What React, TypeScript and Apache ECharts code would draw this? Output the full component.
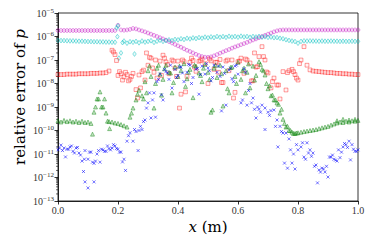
import React, { useEffect, useRef } from "react";
import * as echarts from "echarts";

// grid positions (m)
const xs = [0,0.01,0.02,0.03,0.04,0.05,0.06,0.07,0.08,0.09,0.1,0.11,0.12,0.13,0.14,0.15,0.16,0.17,0.18,0.19,0.2,0.21,0.22,0.23,0.24,0.25,0.26,0.27,0.28,0.29,0.3,0.31,0.32,0.33,0.34,0.35,0.36,0.37,0.38,0.39,0.4,0.41,0.42,0.43,0.44,0.45,0.46,0.47,0.48,0.49,0.5,0.51,0.52,0.53,0.54,0.55,0.56,0.57,0.58,0.59,0.6,0.61,0.62,0.63,0.64,0.65,0.66,0.67,0.68,0.69,0.7,0.71,0.72,0.73,0.74,0.75,0.76,0.77,0.78,0.79,0.8,0.81,0.82,0.83,0.84,0.85,0.86,0.87,0.88,0.89,0.9,0.91,0.92,0.93,0.94,0.95,0.96,0.97,0.98,0.99,1];

const magenta = [1.8e-6,1.8e-6,1.8e-6,1.8e-6,1.8e-6,1.8e-6,1.8e-6,1.8e-6,1.8e-6,1.8e-6,1.8e-6,1.8e-6,1.8e-6,1.8e-6,1.8e-6,1.8e-6,1.8e-6,1.8e-6,1.8e-6,1.8e-6,
3.0e-6,1.9e-6,1.85e-6,1.9e-6,2.0e-6,2.2e-6,2.1e-6,1.9e-6,
1.74e-6,1.58e-6,1.41e-6,1.26e-6,1.12e-6,1.0e-6,8.9e-7,7.9e-7,7.0e-7,6.1e-7,5.3e-7,4.6e-7,4.0e-7,3.5e-7,3.0e-7,2.6e-7,2.3e-7,2.0e-7,1.75e-7,1.55e-7,1.4e-7,1.32e-7,
1.3e-7,1.36e-7,1.5e-7,1.7e-7,1.95e-7,2.2e-7,2.5e-7,2.8e-7,3.2e-7,3.6e-7,4.0e-7,4.5e-7,5.0e-7,5.6e-7,6.3e-7,7.1e-7,7.9e-7,8.9e-7,1.0e-6,1.12e-6,1.26e-6,1.41e-6,1.58e-6,1.74e-6,1.86e-6,
1.9e-6,1.9e-6,1.9e-6,1.9e-6,1.9e-6,1.9e-6,1.9e-6,1.9e-6,1.9e-6,1.9e-6,1.9e-6,1.9e-6,1.9e-6,1.9e-6,1.9e-6,1.9e-6,1.9e-6,1.9e-6,1.9e-6,1.9e-6,1.9e-6,1.9e-6,1.9e-6,1.9e-6,1.9e-6,1.9e-6];

const cyan = [6.8e-7,6.7e-7,6.7e-7,6.6e-7,6.5e-7,6.5e-7,6.4e-7,6.3e-7,6.3e-7,6.2e-7,6.1e-7,6.1e-7,6.0e-7,6.0e-7,5.9e-7,5.9e-7,5.8e-7,5.8e-7,5.7e-7,5.7e-7,
2.8e-6,2.0e-7,6.4e-7,5.2e-7,6.0e-7,5.7e-7,6.2e-7,5.4e-7,6.4e-7,5.8e-7,6.2e-7,6.6e-7,5.6e-7,6.3e-7,6.9e-7,6.2e-7,6.7e-7,7.2e-7,6.7e-7,7.5e-7,
7.2e-7,8.0e-7,7.5e-7,8.4e-7,7.9e-7,8.7e-7,8.2e-7,9.0e-7,8.5e-7,9.4e-7,8.8e-7,9.6e-7,9.0e-7,1.0e-6,9.3e-7,9.9e-7,9.2e-7,1.02e-6,9.5e-7,1.0e-6,
9.4e-7,1.03e-6,9.6e-7,1.0e-6,9.3e-7,1.0e-6,9.5e-7,1.01e-6,9.4e-7,9.8e-7,9.2e-7,9.5e-7,8.9e-7,9.0e-7,8.4e-7,8.0e-7,7.3e-7,6.8e-7,6.4e-7,6.1e-7,
5.2e-7,6.2e-7,6.5e-7,6.4e-7,6.5e-7,6.4e-7,6.4e-7,6.3e-7,6.4e-7,6.3e-7,6.3e-7,6.4e-7,6.3e-7,6.3e-7,6.2e-7,6.3e-7,6.2e-7,6.2e-7,6.3e-7,6.2e-7,6.2e-7];
const cyanExtraX = [0.195,0.198,0.203,0.215,0.255];
const cyanExtraY = [2.3e-6,9.8e-7,1.2e-7,5.5e-7,1.8e-7];

const red = [2.4e-8,2.4e-8,2.4e-8,2.5e-8,2.5e-8,2.5e-8,2.5e-8,2.6e-8,2.6e-8,2.6e-8,2.6e-8,2.7e-8,2.7e-8,2.7e-8,2.8e-8,2.8e-8,2.9e-8,
3.4e-8,2.6e-7,1.7e-7,2.2e-8,2.6e-8,1.9e-8,2.4e-8,1.5e-8,2.7e-8,5.5e-9,2.3e-8,3.2e-8,1.4e-8,
6.0e-8,1.2e-7,3.0e-8,1.7e-8,9.0e-8,1.6e-7,8.2e-8,2.6e-8,1.0e-7,4.5e-8,9.0e-8,3.5e-9,8.5e-8,2.0e-8,8.0e-8,9.5e-8,3.3e-8,8.8e-8,1.1e-7,7.0e-8,
1.0e-8,9.2e-8,4.0e-8,8.0e-8,1.05e-7,1.1e-8,9.0e-8,3.5e-8,1.0e-7,4.2e-9,8.5e-8,1.2e-7,2.7e-8,1.0e-7,7.5e-8,1.3e-8,5.0e-8,1.4e-7,3.7e-7,1.0e-7,
2.8e-8,6.5e-9,1.7e-8,8.6e-9,2.2e-9,3.2e-8,5.3e-9,3.5e-8,4.0e-8,2.4e-8,1.4e-8,1.0e-7,3.7e-7,6.0e-8,3.8e-8,
3.4e-8,3.3e-8,3.2e-8,3.1e-8,3.0e-8,2.9e-8,2.9e-8,2.8e-8,2.7e-8,2.7e-8,2.6e-8,2.6e-8,2.5e-8,2.5e-8,2.4e-8,2.4e-8];
const redExtraX = [0.185,0.195,0.205,0.215,0.225,0.235,0.245,0.265,0.275,0.285,0.295,0.305,0.315,0.325,0.345,0.355,0.365,0.385,0.395,0.405,0.415,0.425,0.445,0.455,0.475,0.505,0.525,0.535,0.545,0.565,0.585,0.605,0.625,0.645,0.655,0.665,0.685,0.695,0.715,0.735,0.765,0.785,0.795,0.805];
const redExtraY = [2.2e-7,9.5e-8,3.2e-8,1.4e-8,3.0e-8,1.3e-8,2.0e-8,2.4e-9,6.5e-9,3.7e-8,2.0e-7,1.3e-7,4.6e-8,1.0e-7,2.2e-8,1.2e-7,6.5e-8,9.0e-8,2.0e-8,9e-10,1.0e-7,4.4e-9,1.2e-7,5.0e-8,9.5e-8,1.1e-7,8.0e-8,3.0e-8,1.1e-8,1.0e-7,2.4e-9,9.0e-8,1.1e-7,1.3e-8,2.0e-7,5.2e-8,1.4e-7,3.1e-8,1.2e-8,8.6e-9,2.9e-8,3.2e-8,1.7e-8,7.0e-8];

const green = [2.6e-10,2.3e-10,2.7e-10,2.4e-10,2.6e-10,2.3e-10,2.5e-10,2.2e-10,2.5e-10,2.2e-10,2.3e-10,2.0e-10,
6.0e-10,2.2e-9,4.4e-9,1.0e-9,5.5e-10,2.4e-10,2.3e-10,2.1e-10,2.0e-10,1.8e-10,1.6e-10,1.4e-10,
3.7e-10,9e-10,2.0e-9,5.2e-9,3.0e-9,1.2e-8,3.5e-8,2.0e-8,9e-10,4.5e-8,2.5e-8,1.5e-8,6.0e-8,3.0e-8,4.0e-9,5.0e-8,2.0e-8,3.5e-8,7.0e-8,1.6e-8,
4.0e-8,2.5e-9,5.5e-8,2.8e-8,1.2e-8,6.5e-8,3.0e-8,6e-10,4.5e-8,1.8e-8,6.0e-8,1.1e-9,3.5e-8,4.0e-9,5.0e-8,2.0e-8,8.0e-8,1.5e-8,4.5e-8,3.0e-8,
6.5e-9,5.5e-8,2.2e-8,8.5e-8,4.0e-8,2.3e-8,6.0e-9,3.0e-9,2.0e-9,1.5e-9,5.5e-10,3.0e-10,1.4e-10,1.0e-10,8.5e-11,7.5e-11,
8.0e-11,8.5e-11,9.0e-11,9.5e-11,1.0e-10,1.05e-10,1.1e-10,1.2e-10,1.3e-10,1.4e-10,1.5e-10,1.7e-10,1.9e-10,2.1e-10,2.3e-10,2.2e-10,2.5e-10,2.3e-10,2.6e-10,2.5e-10,2.7e-10];
const greenExtraX = [0.115,0.125,0.135,0.145,0.155,0.165,0.172,0.245,0.265,0.285,0.295,0.305,0.325,0.335,0.345,0.355,0.375,0.385,0.405,0.425,0.435,0.455,0.475,0.485,0.505,0.515,0.525,0.545,0.565,0.575,0.595,0.615,0.625,0.635,0.655,0.675,0.685,0.695,0.705,0.715,0.725,0.735,0.745,0.755,0.765,0.775,0.785,0.795,0.93,0.95,0.97,0.99];
const greenExtraY = [7e-11,1.0e-9,2.2e-9,1.0e-9,2.2e-9,2.5e-10,1.2e-10,5.5e-10,3.5e-9,2.2e-9,4.0e-9,5.5e-8,1.0e-8,6.0e-8,3.2e-9,4.2e-8,2.8e-8,1.1e-8,5.5e-8,7.5e-9,3.0e-8,6.0e-8,2.2e-8,4.5e-8,1.5e-8,7.5e-10,6.0e-8,2.6e-8,6.0e-9,4.8e-8,1.0e-8,3.5e-8,4.0e-9,6.8e-8,1.4e-8,6.5e-8,3.5e-8,1.0e-8,8.0e-9,3.2e-9,2.0e-9,1.3e-9,8.0e-10,2.0e-10,1.5e-10,1.0e-10,7.5e-11,7.8e-11,2.6e-10,3.0e-10,2.8e-10,3.0e-10];

const blue = [1.5e-11,2.4e-11,1.8e-11,1.6e-11,2.0e-11,1.3e-11,1.8e-11,1.1e-11,5e-12,1.4e-11,6e-12,1.2e-11,4e-12,1.0e-11,4.5e-12,1.5e-11,1.3e-11,1.7e-11,1.8e-11,2.2e-11,1.6e-11,1.2e-11,6e-12,
3.5e-11,8e-11,3.5e-11,9e-11,1.0e-10,1.1e-10,2.8e-10,1.5e-9,3.4e-10,4e-9,1.2e-8,2.5e-8,2.0e-9,3.2e-8,1.5e-8,6.4e-9,4.0e-8,2.2e-8,5.0e-8,1.2e-8,
3.0e-8,6.0e-8,1.8e-8,4.0e-8,3.5e-9,5.5e-8,2.5e-8,4.6e-8,1.3e-8,6.0e-8,3.0e-8,2.0e-8,5.0e-8,1.2e-9,3.7e-8,1.6e-8,5.5e-8,2.5e-8,1.5e-9,4.2e-8,
1.2e-9,1.0e-8,2.4e-9,3.4e-10,8e-10,1.2e-9,9e-10,6e-10,7e-10,7.5e-10,2.8e-10,1.5e-10,7.8e-11,7.8e-11,4.4e-11,4.1e-12,2.3e-12,1.5e-11,2.0e-11,7.4e-12,
3.0e-11,1.5e-11,1.1e-11,3.4e-12,2.1e-12,2.5e-12,1.7e-12,1.05e-12,7.4e-12,6e-12,5e-12,7e-12,2.0e-11,2.5e-11,3.5e-11,2.5e-11,1.3e-11,1.5e-11];
const blueExtraX = [0.005,0.015,0.025,0.035,0.045,0.055,0.065,0.075,0.085,0.088,0.09,0.1,0.105,0.115,0.12,0.125,0.135,0.145,0.155,0.165,0.175,0.185,0.195,0.205,0.215,0.225,0.235,0.255,0.267,0.275,0.285,0.295,
0.305,0.315,0.325,0.335,0.345,0.355,0.365,0.375,0.395,0.405,0.415,0.435,0.445,0.465,0.475,0.495,0.505,0.515,0.535,0.545,0.555,0.575,0.585,0.595,0.615,0.625,0.635,0.645,0.655,0.665,0.675,
0.69,0.705,0.725,0.733,0.745,0.755,0.765,0.775,0.785,0.795,0.815,0.825,0.835,0.845,0.855,0.865,0.875,0.885,0.895,0.905,0.915,0.925,0.935,0.945,0.955,0.965,0.975,0.985,0.995];
const blueExtraY = [1.8e-11,1.4e-11,7.5e-12,1.6e-11,2.2e-11,1.1e-11,1.9e-11,9e-12,1.8e-12,6e-12,6.5e-13,3.6e-13,1.2e-11,4.5e-12,6.5e-13,5e-12,1.4e-11,1.6e-11,1.3e-11,2.2e-11,1.5e-11,2.5e-11,1.7e-11,1.2e-11,4.6e-12,2.0e-12,6.0e-11,1.1e-10,1.4e-11,1.5e-10,2.4e-10,9e-10,
4e-9,2e-9,3.7e-10,1.5e-8,3.3e-9,4.0e-8,2.8e-8,6.0e-8,1.8e-8,5e-8,2.8e-8,6.5e-8,1.0e-8,4.4e-8,2.4e-8,7e-8,3.5e-8,1.8e-8,5.5e-8,6.8e-10,2.7e-8,4.5e-8,1.2e-8,6e-8,2.0e-9,3.0e-8,5e-9,1.5e-9,8e-10,1.0e-9,6e-10,
1.1e-10,4.4e-10,1.5e-10,2.0e-11,9e-11,4.1e-12,2.5e-12,1.5e-11,1.0e-11,2.5e-11,3.0e-11,6e-12,1.1e-11,8e-12,3.0e-12,5.9e-13,1.7e-12,2.3e-12,3.0e-12,7.4e-12,9e-12,5.5e-12,1.5e-11,1.2e-11,2.8e-11,1.9e-11,5.6e-12,1.6e-11,1.3e-11];

const xTicks = [0, 0.2, 0.4, 0.6, 0.8, 1.0];
const yMin = 1e-13;
const yMax = 1e-5;

function pts(ys: number[], ex?: number[], ey?: number[]) {
  const d: number[][] = xs.map((x, i) => [x, ys[i]]);
  if (ex && ey) ex.forEach((x, i) => d.push([x, ey[i]]));
  return d;
}

export default function App() {
  const ref = useRef<HTMLDivElement>(null);
  useEffect(() => {
    if (!ref.current) return;
    const chart = echarts.init(ref.current, undefined, { renderer: "svg" });
    const minorVals: number[][] = [];
    for (let e = -13; e < -5; e++) {
      for (let m = 2; m <= 9; m++) minorVals.push([0, m * Math.pow(10, e)]);
    }
    const serif = "'Liberation Serif', 'DejaVu Serif', serif";
    const titleFont = "'DejaVu Serif', serif";
    const mk = (name: string, data: number[][], symbol: string, size: any, fill: string, stroke: string, bw = 0.7) => ({
      type: "scatter",
      name,
      data,
      symbol,
      symbolSize: size,
      silent: true,
      itemStyle: { color: fill, borderColor: stroke, borderWidth: bw },
    });
    chart.setOption({
      animation: false,
      grid: { left: 58, right: 16, top: 13, bottom: 48, show: true, borderColor: "#000", borderWidth: 0.8 },
      xAxis: {
        type: "value",
        min: 0,
        max: 1,
        interval: 0.2,
        name: "{i|x} (m)",
        nameLocation: "middle",
        nameGap: 17,
        nameTextStyle: { fontFamily: titleFont, fontSize: 15, color: "#000", rich: { i: { fontFamily: titleFont, fontStyle: "italic", fontSize: 15, color: "#000" } } },
        axisLine: { show: true, lineStyle: { color: "#000", width: 0.8 } },
        axisTick: { show: true, length: 3.5, inside: false, lineStyle: { color: "#000", width: 0.8 } },
        axisLabel: { margin: 4, fontFamily: serif, fontSize: 10, color: "#333", formatter: (v: number) => v.toFixed(1), customValues: xTicks },
        splitLine: { show: false },
      },
      yAxis: {
        type: "log",
        logBase: 10,
        min: yMin,
        max: yMax,
        interval: 1,
        axisLine: { show: true, lineStyle: { color: "#000", width: 0.8 } },
        axisTick: { show: true, length: 3.5, inside: false, lineStyle: { color: "#000", width: 0.8 } },
        axisLabel: {
          margin: 4,
          fontFamily: serif,
          color: "#333",
          formatter: (v: number) => {
            const e = Math.round(Math.log10(v));
            return "{b|10}{s|\u2212" + Math.abs(e) + "}";
          },
          rich: {
            b: { fontFamily: serif, fontSize: 10, color: "#333", lineHeight: 12 },
            s: { fontFamily: serif, fontSize: 7, color: "#333", lineHeight: 8, verticalAlign: "top" },
          },
        },
        splitLine: { show: false },
      },
      graphic: [
        {
          type: "text",
          x: 20,
          y: 97,
          rotation: Math.PI / 2,
          silent: true,
          style: {
            text: "relative error of {i|p}",
            fontFamily: titleFont,
            fontSize: 15,
            fill: "#000",
            align: "center",
            verticalAlign: "middle",
            rich: { i: { fontFamily: titleFont, fontStyle: "italic", fontSize: 15, fill: "#000", color: "#000" } },
          },
        },
      ],
      series: [
        {
          type: "custom",
          silent: true,
          clip: false,
          data: minorVals,
          renderItem: (_p: any, api: any) => {
            const p = api.coord([0, api.value(1)]);
            return { type: "line", shape: { x1: p[0] - 2, y1: p[1], x2: p[0], y2: p[1] }, style: { stroke: "#000", lineWidth: 0.6 } };
          },
        },
        mk("magenta", pts(magenta), "circle", 3.8, "rgba(191,0,191,0.12)", "rgba(191,0,191,0.7)"),
        mk("cyan", pts(cyan, cyanExtraX, cyanExtraY), "diamond", [3.5, 4.8], "rgba(0,191,191,0.12)", "rgba(0,191,191,0.8)"),
        mk("red", pts(red, redExtraX, redExtraY), "rect", 3.8, "rgba(255,0,0,0.06)", "rgba(255,0,0,0.7)"),
        mk("green", pts(green, greenExtraX, greenExtraY), "triangle", 4, "rgba(0,128,0,0.3)", "rgba(0,128,0,0.75)"),
        mk("blue", pts(blue, blueExtraX, blueExtraY), "path://M0,0L10,10M0,10L10,0", 3, "rgba(0,0,0,0)", "rgba(0,0,255,0.85)", 0.8),
      ],
    });
    return () => chart.dispose();
  }, []);
  return <div ref={ref} style={{ width: 374, height: 249, position: "absolute", left: 0, top: 0 }} />;
}
